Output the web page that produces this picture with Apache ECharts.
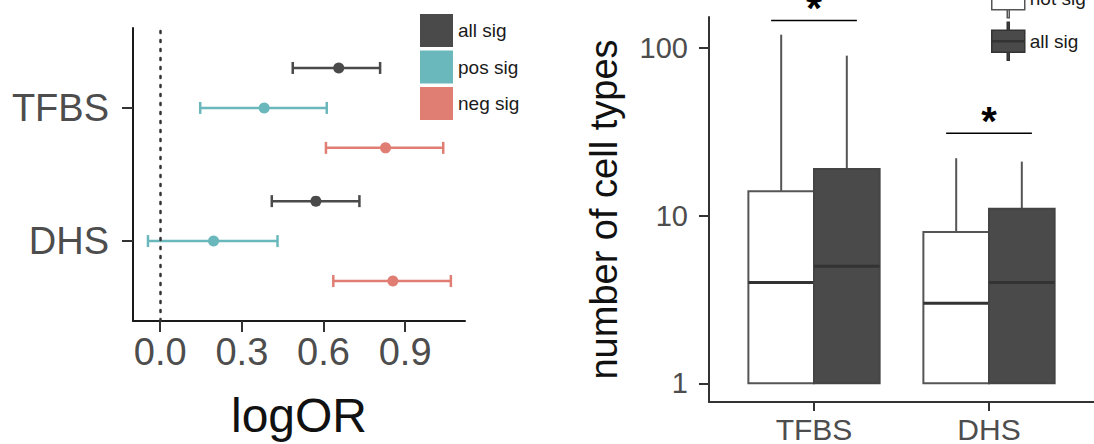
<!DOCTYPE html>
<html>
<head>
<meta charset="utf-8">
<script src="https://cdn.jsdelivr.net/npm/echarts@6/dist/echarts.min.js"></script>
<style>
  html, body { margin: 0; padding: 0; background: #fff; }
  #chart { width: 1094px; height: 444px; }
</style>
</head>
<body>
<div id="chart"></div>
<script>
// left panel: logOR with confidence interval, per region and sig group
var regions = ["TFBS", "DHS"];
var sigGroups = ["all sig", "pos sig", "neg sig"];
var sigColors = ["#4a4a4a", "#6bb8bc", "#e07e74"];
var orEstimate = [[0.656, 0.572], [0.382, 0.196], [0.828, 0.855]];
var orLow = [[0.487, 0.410], [0.147, -0.045], [0.609, 0.636]];
var orHigh = [[0.808, 0.732], [0.612, 0.431], [1.040, 1.068]];
var orTicks = [0, 0.3, 0.6, 0.9];

// right panel: number of cell types (min, q1, median, q3, max)
var boxGroups = ["not sig", "all sig"];
var notSigBox = [[1, 1, 4, 14, 120], [1, 1, 3, 8, 22]];
var allSigBox = [[1, 1, 5, 19, 90], [1, 1, 4, 11, 21]];
var countTicks = [1, 10, 100];
var sigBracketY = [146, 31];
var sigMarks = ["*", "*"];

var FONT = "Liberation Sans, Arial, sans-serif";
var chart = echarts.init(document.getElementById("chart"), null, { renderer: "svg" });

// TFBS on top, DHS below
function regionY(i) {
  return regions.length - i;
}
function groupOffset(g) {
  return (1 - g) * 0.3;
}

function errorBarRender(color) {
  return function (params, api) {
    var y = api.value(2);
    var a = api.coord([api.value(0), y]);
    var b = api.coord([api.value(1), y]);
    var cap = 6;
    var st = { stroke: color, lineWidth: 2.5 };
    return {
      type: "group",
      children: [
        { type: "line", shape: { x1: a[0], y1: a[1], x2: b[0], y2: b[1] }, style: st },
        { type: "line", shape: { x1: a[0], y1: a[1] - cap, x2: a[0], y2: a[1] + cap }, style: st },
        { type: "line", shape: { x1: b[0], y1: b[1] - cap, x2: b[0], y2: b[1] + cap }, style: st }
      ]
    };
  };
}

function boxRender(g, fill, border) {
  return function (params, api) {
    var x = api.value(0) + (g - 0.5) * 0.375;
    var hw = 0.1875;
    var tl = api.coord([x - hw, api.value(4)]);
    var br = api.coord([x + hw, api.value(2)]);
    var ml = api.coord([x - hw, api.value(3)]);
    var mr = api.coord([x + hw, api.value(3)]);
    var pMax = api.coord([x, api.value(5)]);
    var pMin = api.coord([x, api.value(1)]);
    var whisker = { stroke: "#555", lineWidth: 2 };
    return {
      type: "group",
      children: [
        { type: "line", shape: { x1: pMax[0], y1: pMax[1], x2: pMax[0], y2: tl[1] }, style: whisker },
        { type: "line", shape: { x1: pMin[0], y1: pMin[1], x2: pMin[0], y2: br[1] }, style: whisker },
        {
          type: "rect",
          shape: { x: tl[0], y: tl[1], width: br[0] - tl[0], height: br[1] - tl[1] },
          style: { fill: fill, stroke: border, lineWidth: 2 }
        },
        { type: "line", shape: { x1: ml[0], y1: ml[1], x2: mr[0], y2: mr[1] }, style: { stroke: "#333", lineWidth: 3 } }
      ]
    };
  };
}

function bracketRender(params, api) {
  var x = api.value(0);
  var y = api.value(1);
  var a = api.coord([x - 0.245, y]);
  var b = api.coord([x + 0.245, y]);
  return {
    type: "group",
    children: [
      { type: "line", shape: { x1: a[0], y1: a[1], x2: b[0], y2: b[1] }, style: { stroke: "#000", lineWidth: 1.5 } },
      {
        type: "text",
        style: {
          text: sigMarks[params.dataIndex],
          x: (a[0] + b[0]) / 2,
          y: a[1] - 12,
          align: "center",
          verticalAlign: "middle",
          font: "bold 40px " + FONT,
          fill: "#000"
        }
      }
    ]
  };
}

var series = [];
sigGroups.forEach(function (name, g) {
  series.push({
    name: name,
    type: "scatter",
    xAxisIndex: 0,
    yAxisIndex: 0,
    symbolSize: 11,
    z: 5,
    itemStyle: { color: sigColors[g], opacity: 1 },
    data: regions.map(function (r, i) {
      return [orEstimate[g][i], regionY(i) + groupOffset(g)];
    }),
    markLine: g === 0 ? {
      silent: true,
      symbol: "none",
      label: { show: false },
      lineStyle: { type: [2, 7], color: "#333", width: 2.5, cap: "round" },
      data: [{ xAxis: 0 }]
    } : undefined
  });
});
sigGroups.forEach(function (name, g) {
  series.push({
    name: name,
    type: "custom",
    xAxisIndex: 0,
    yAxisIndex: 0,
    z: 3,
    renderItem: errorBarRender(sigColors[g]),
    encode: { x: [0, 1], y: 2 },
    data: regions.map(function (r, i) {
      return [orLow[g][i], orHigh[g][i], regionY(i) + groupOffset(g)];
    })
  });
});
[notSigBox, allSigBox].forEach(function (boxes, g) {
  series.push({
    name: boxGroups[g],
    type: "custom",
    xAxisIndex: 1,
    yAxisIndex: 1,
    renderItem: g === 0 ? boxRender(0, "#fff", "#555") : boxRender(1, "#4a4a4a", "#444"),
    encode: { x: 0, y: [1, 2, 3, 4, 5] },
    data: boxes.map(function (b, i) {
      return [i + 1].concat(b);
    })
  });
});
series.push({
  name: "signif",
  type: "custom",
  xAxisIndex: 1,
  yAxisIndex: 1,
  renderItem: bracketRender,
  encode: { x: 0, y: 1 },
  data: sigBracketY.map(function (y, i) {
    return [i + 1, y];
  })
});

var option = {
  backgroundColor: "#fff",
  animation: false,
  textStyle: { fontFamily: FONT },
  grid: [
    { left: 133, top: 28, width: 332, height: 293 },
    { left: 709, top: 17, width: 392, height: 385 }
  ],
  legend: [
    {
      orient: "vertical",
      left: 420,
      top: 14,
      padding: 0,
      itemWidth: 33,
      itemHeight: 33,
      itemGap: 3.5,
      icon: "rect",
      selectedMode: false,
      textStyle: { fontSize: 19, color: "#1a1a1a" },
      data: sigGroups.map(function (n, g) {
        return { name: n, itemStyle: { color: sigColors[g], borderWidth: 0 } };
      })
    },
    {
      orient: "vertical",
      left: 991,
      top: -21,
      padding: 0,
      itemWidth: 33,
      itemHeight: 38,
      itemGap: 3,
      selectedMode: false,
      icon: "path://M15.5,0H17.5V8H15.5Z M0,8H33V30H0Z M15.5,30H17.5V38H15.5Z M0,18.5H33V19.5H0Z",
      textStyle: { fontSize: 19, color: "#1a1a1a" },
      data: [
        { name: boxGroups[0], itemStyle: { color: "#fff", borderColor: "#555", borderWidth: 1.5 } },
        { name: boxGroups[1], itemStyle: { color: "#4a4a4a", borderColor: "#333", borderWidth: 1.5 } }
      ]
    }
  ],
  xAxis: [
    {
      type: "value",
      gridIndex: 0,
      min: -0.1,
      max: 1.12,
      splitLine: { show: false },
      axisLine: { show: true, onZero: false, lineStyle: { color: "#1a1a1a", width: 2 } },
      axisTick: { show: true, length: 11, customValues: orTicks, lineStyle: { color: "#333", width: 2 } },
      axisLabel: {
        customValues: orTicks,
        formatter: function (v) { return v.toFixed(1); },
        fontSize: 38,
        color: "#4d4d4d",
        margin: 12
      },
      name: "logOR",
      nameLocation: "middle",
      nameGap: 70,
      nameTextStyle: { fontSize: 48, color: "#111" }
    },
    {
      type: "value",
      gridIndex: 1,
      min: 0.4,
      max: 2.6,
      splitLine: { show: false },
      axisLine: { show: true, onZero: false, lineStyle: { color: "#333", width: 2 } },
      axisTick: { show: true, length: 9, customValues: [1, 2], lineStyle: { color: "#333", width: 2 } },
      axisLabel: {
        customValues: [1, 2],
        formatter: function (v) { return regions[v - 1]; },
        fontSize: 30,
        color: "#4d4d4d",
        margin: 12
      }
    }
  ],
  yAxis: [
    {
      type: "value",
      gridIndex: 0,
      min: 0.4,
      max: 2.6,
      splitLine: { show: false },
      axisLine: { show: true, onZero: false, lineStyle: { color: "#1a1a1a", width: 2 } },
      axisTick: { show: true, length: 11, customValues: [1, 2], lineStyle: { color: "#333", width: 2 } },
      axisLabel: {
        customValues: [1, 2],
        formatter: function (v) { return regions[regions.length - v]; },
        fontSize: 38,
        color: "#4d4d4d",
        margin: 24
      }
    },
    {
      type: "log",
      logBase: 10,
      gridIndex: 1,
      min: 0.774,
      max: 153,
      splitLine: { show: false },
      axisLine: { show: true, onZero: false, lineStyle: { color: "#333", width: 2 } },
      axisTick: { show: true, length: 10, customValues: countTicks, lineStyle: { color: "#333", width: 2 } },
      axisLabel: {
        customValues: countTicks,
        fontSize: 29,
        color: "#4d4d4d",
        margin: 21
      },
      name: "number of cell types",
      nameLocation: "middle",
      nameRotate: 90,
      nameGap: 86,
      nameTextStyle: { fontSize: 38, color: "#111" }
    }
  ],
  series: series
};

chart.setOption(option);
</script>
</body>
</html>
